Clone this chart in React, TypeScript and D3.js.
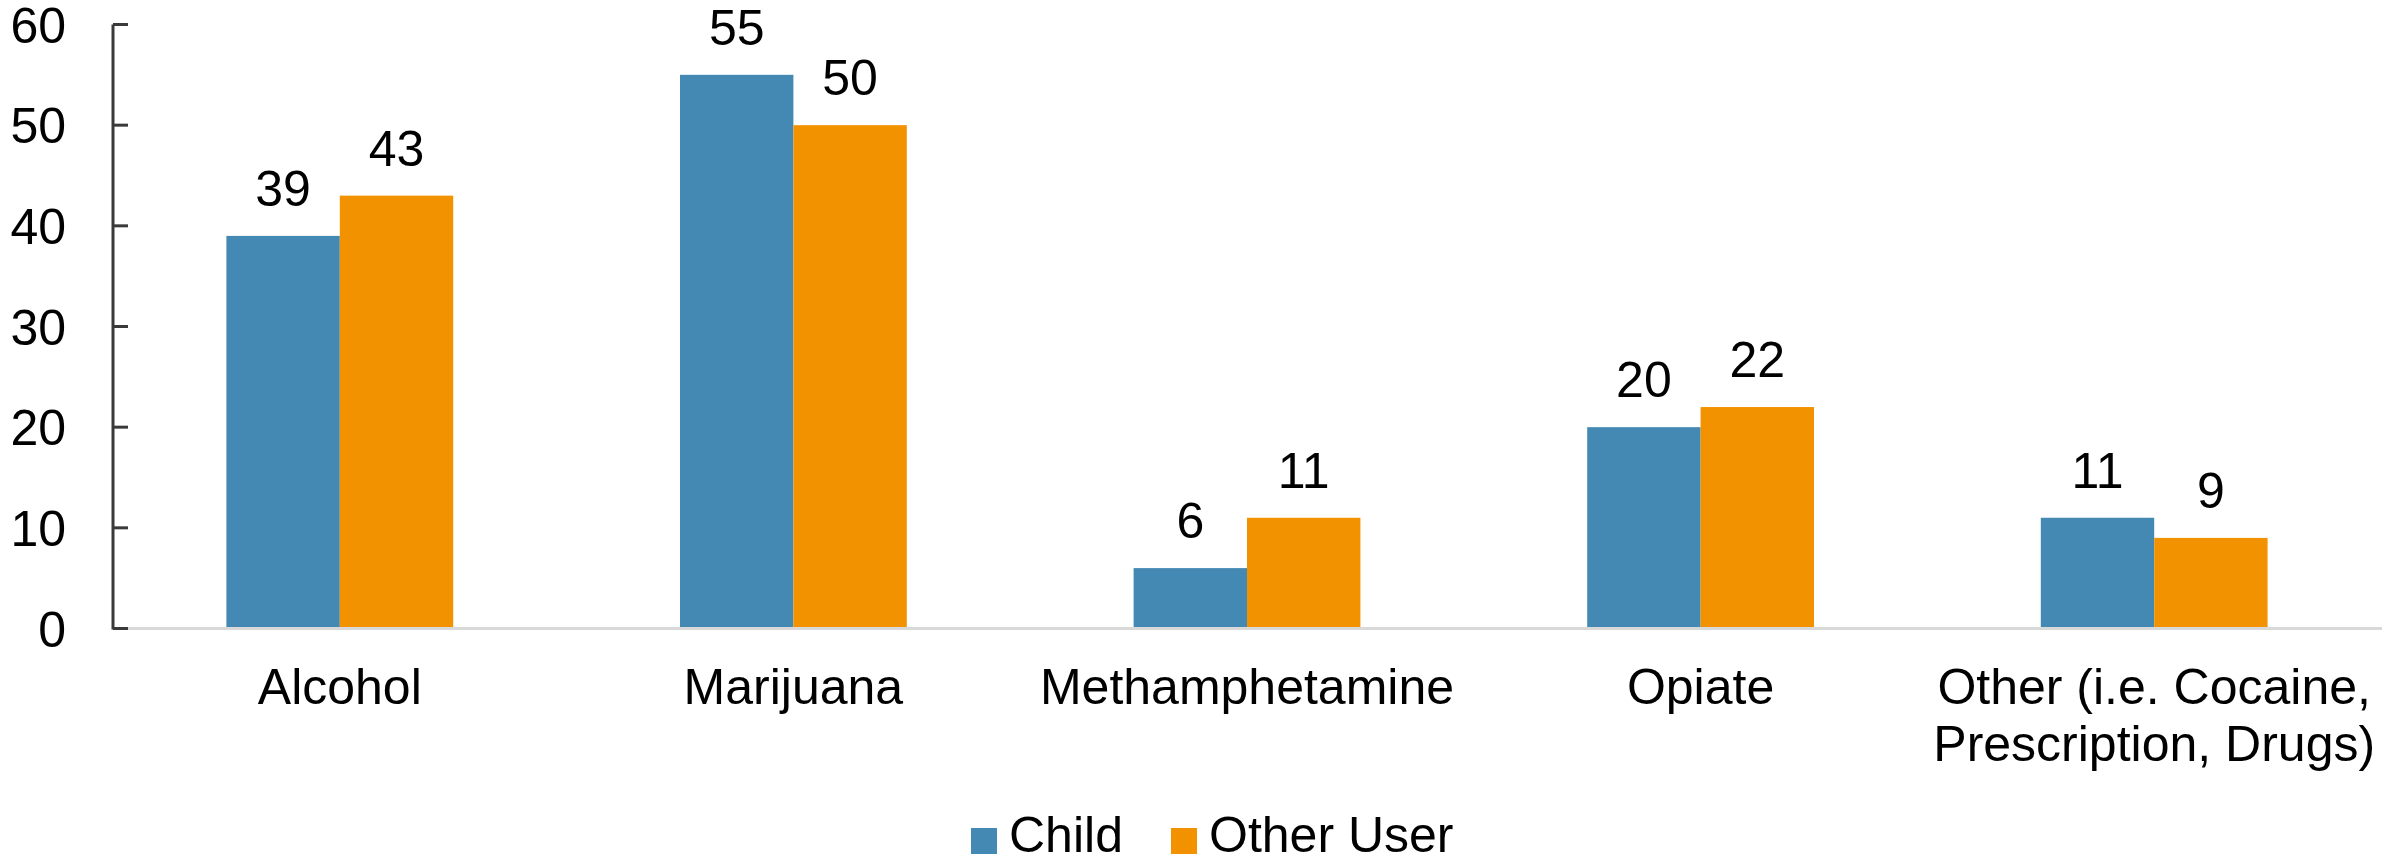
import React from "react";
import * as d3 from "d3";

const categories: string[][] = [
  ["Alcohol"],
  ["Marijuana"],
  ["Methamphetamine"],
  ["Opiate"],
  ["Other (i.e. Cocaine,", "Prescription, Drugs)"],
];
const seriesNames = ["Child", "Other User"];
const childValues = [39, 55, 6, 20, 11];
const otherUserValues = [43, 50, 11, 22, 9];
const yTicks = [0, 10, 20, 30, 40, 50, 60];
const colors = ["#4389b3", "#f39200"];

const W = 2382;
const H = 860;
const FONT = "'Liberation Sans', Arial, sans-serif";
const FS = 50;

export default function App() {
  const keys = categories.map((c) => c.join(" "));
  const x = d3.scaleBand<string>().domain(keys).range([113, 2381]).padding(0);
  const xs = d3
    .scaleBand<string>()
    .domain(seriesNames)
    .range([0, x.bandwidth()])
    .paddingInner(0)
    .paddingOuter(1);
  const y = d3.scaleLinear().domain([0, 60]).range([628.5, 24.5]);
  const series = [childValues, otherUserValues];
  const axisX = 113;

  return (
    <svg
      width={W}
      height={H}
      style={{ position: "absolute", left: 0, top: 0, background: "#fff" }}
      fontFamily={FONT}
    >
      <rect x={0} y={0} width={W} height={H} fill="#fff" />
      {/* bars */}
      {keys.map((k, i) =>
        series.map((vals, s) => (
          <rect
            key={k + s}
            x={(x(k) as number) + (xs(seriesNames[s]) as number)}
            y={y(vals[i])}
            width={xs.bandwidth()}
            height={y(0) - y(vals[i])}
            fill={colors[s]}
          />
        ))
      )}
      {/* value labels */}
      {keys.map((k, i) =>
        series.map((vals, s) => (
          <text
            key={"l" + k + s}
            x={(x(k) as number) + (xs(seriesNames[s]) as number) + xs.bandwidth() / 2}
            y={y(vals[i]) - 30}
            textAnchor="middle"
            fontSize={FS}
            fill="#000"
          >
            {vals[i]}
          </text>
        ))
      )}
      {/* baseline */}
      <line x1={axisX} x2={W} y1={y(0)} y2={y(0)} stroke="#d9d9d9" strokeWidth={3} />
      {/* y axis */}
      <line x1={axisX} x2={axisX} y1={y(60)} y2={y(0) + 1} stroke="#3a3a3a" strokeWidth={3} />
      {yTicks.map((t) => (
        <g key={t}>
          <line x1={axisX} x2={axisX + 15} y1={y(t)} y2={y(t)} stroke="#3a3a3a" strokeWidth={3} />
          <text
            x={66}
            y={y(t)}
            dy="0.36em"
            textAnchor="end"
            fontSize={FS}
            fill="#000"
          >
            {t}
          </text>
        </g>
      ))}
      {/* category labels */}
      {categories.map((lines, i) => (
        <text
          key={"c" + i}
          x={(x(keys[i]) as number) + x.bandwidth() / 2}
          y={704}
          textAnchor="middle"
          fontSize={FS}
          fill="#000"
        >
          {lines.map((ln, j) => (
            <tspan key={j} x={(x(keys[i]) as number) + x.bandwidth() / 2} y={704 + j * 57}>
              {ln}
            </tspan>
          ))}
        </text>
      ))}
      {/* legend */}
      <rect x={971} y={828} width={26} height={26} fill={colors[0]} />
      <text x={1009} y={852} fontSize={FS} fill="#000">
        {seriesNames[0]}
      </text>
      <rect x={1171} y={828} width={26} height={26} fill={colors[1]} />
      <text x={1209} y={852} fontSize={FS} fill="#000">
        {seriesNames[1]}
      </text>
    </svg>
  );
}
